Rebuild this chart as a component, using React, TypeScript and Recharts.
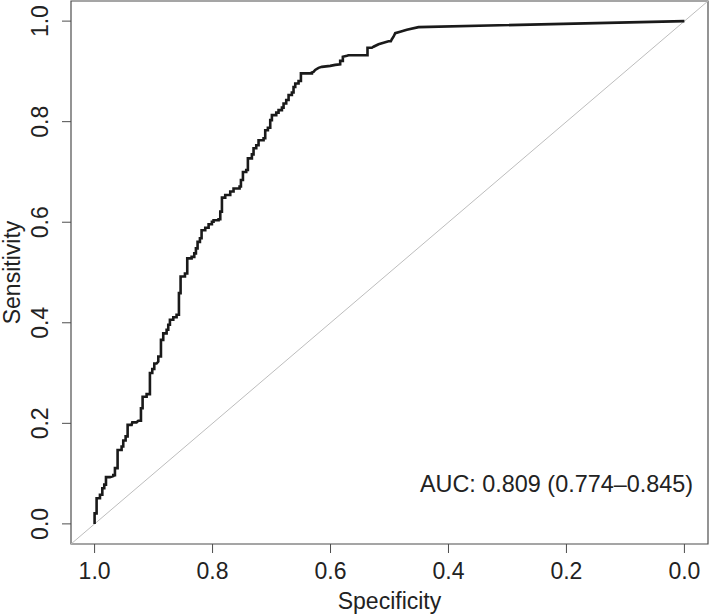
import React from "react";
import { LineChart, Line, XAxis, YAxis, ReferenceLine, ReferenceArea } from "recharts";

const specificity = [
  1.0, 1.0, 0.9966, 0.9966, 0.9909, 0.9909, 0.9869, 0.9869, 0.9836, 0.9836,
  0.9807, 0.9807, 0.9739, 0.9683, 0.9683, 0.9655, 0.9655, 0.961, 0.961, 0.9542,
  0.9542, 0.9514, 0.9514, 0.9474, 0.9474, 0.944, 0.944, 0.9372, 0.9361, 0.9288,
  0.9259, 0.9214, 0.9214, 0.9186, 0.9186, 0.9118, 0.9118, 0.9062, 0.9062, 0.9022,
  0.9022, 0.8988, 0.8988, 0.8949, 0.892, 0.892, 0.8875, 0.8875, 0.8836, 0.8836,
  0.8779, 0.8779, 0.8751, 0.8751, 0.8723, 0.8723, 0.8666, 0.8666, 0.861, 0.861,
  0.857, 0.857, 0.8542, 0.8542, 0.8468, 0.8468, 0.8429, 0.8429, 0.8355, 0.8355,
  0.831, 0.831, 0.8282, 0.8282, 0.8254, 0.8254, 0.8214, 0.8214, 0.8186, 0.8186,
  0.8124, 0.8124, 0.8067, 0.8067, 0.8011, 0.8011, 0.7983, 0.7983, 0.7898, 0.7898,
  0.7869, 0.7869, 0.7841, 0.7841, 0.7785, 0.7785, 0.77, 0.77, 0.7644, 0.7644,
  0.7542, 0.7542, 0.7519, 0.7519, 0.7485, 0.7485, 0.7429, 0.7429, 0.7401, 0.7401,
  0.7333, 0.7333, 0.7305, 0.7305, 0.7259, 0.7259, 0.722, 0.722, 0.7135, 0.7135,
  0.7107, 0.7107, 0.7062, 0.7062, 0.7022, 0.7022, 0.6994, 0.6994, 0.692, 0.692,
  0.6881, 0.6881, 0.6824, 0.6824, 0.6796, 0.6796, 0.6751, 0.6751, 0.6711, 0.6711,
  0.6655, 0.6655, 0.6627, 0.6627, 0.6598, 0.6598, 0.6542, 0.6542, 0.6502, 0.6502,
  0.6401, 0.6316, 0.6316, 0.6288, 0.626, 0.6203, 0.6147, 0.6005, 0.592, 0.5836,
  0.5836, 0.5791, 0.5791, 0.5723, 0.5695, 0.5373, 0.5373, 0.5299, 0.5271, 0.5186,
  0.5101, 0.5017, 0.4977, 0.496, 0.4932, 0.4903, 0.4819, 0.4706, 0.4508, 0.0,
];

const sensitivity = [
  0.0, 0.021, 0.021, 0.051, 0.051, 0.058, 0.058, 0.071, 0.071, 0.078,
  0.078, 0.093, 0.093, 0.095, 0.097, 0.097, 0.111, 0.111, 0.147, 0.147,
  0.154, 0.154, 0.166, 0.166, 0.174, 0.174, 0.197, 0.197, 0.202, 0.202,
  0.205, 0.205, 0.23, 0.23, 0.253, 0.253, 0.258, 0.258, 0.3, 0.3,
  0.308, 0.308, 0.319, 0.319, 0.323, 0.333, 0.333, 0.366, 0.366, 0.379,
  0.379, 0.386, 0.386, 0.396, 0.396, 0.406, 0.406, 0.411, 0.411, 0.416,
  0.416, 0.459, 0.459, 0.492, 0.492, 0.498, 0.498, 0.528, 0.528, 0.531,
  0.531, 0.538, 0.538, 0.548, 0.548, 0.561, 0.561, 0.568, 0.568, 0.584,
  0.584, 0.589, 0.589, 0.596, 0.596, 0.601, 0.601, 0.604, 0.604, 0.606,
  0.606, 0.621, 0.621, 0.649, 0.649, 0.654, 0.654, 0.661, 0.661, 0.667,
  0.667, 0.671, 0.671, 0.684, 0.684, 0.7, 0.7, 0.704, 0.704, 0.727,
  0.727, 0.735, 0.735, 0.747, 0.747, 0.753, 0.753, 0.763, 0.763, 0.767,
  0.767, 0.783, 0.783, 0.788, 0.788, 0.803, 0.803, 0.813, 0.813, 0.818,
  0.818, 0.823, 0.823, 0.828, 0.828, 0.836, 0.836, 0.843, 0.843, 0.853,
  0.853, 0.858, 0.858, 0.869, 0.869, 0.876, 0.876, 0.881, 0.881, 0.896,
  0.896, 0.896, 0.898, 0.899, 0.903, 0.907, 0.909, 0.911, 0.913, 0.914,
  0.921, 0.921, 0.929, 0.931, 0.932, 0.932, 0.947, 0.947, 0.949, 0.954,
  0.957, 0.96, 0.96, 0.964, 0.969, 0.976, 0.979, 0.983, 0.988, 1.0,
];

const xTicks = [1.0, 0.8, 0.6, 0.4, 0.2, 0.0];
const yTicks = [0.0, 0.2, 0.4, 0.6, 0.8, 1.0];
const aucText = "AUC: 0.809 (0.774\u20130.845)";
const xTitle = "Specificity";
const yTitle = "Sensitivity";

const data = specificity.map((s, i) => ({ spec: s, sens: sensitivity[i] }));

const FONT = "'Liberation Sans', Arial, Helvetica, sans-serif";
const TEXT = "#222222";
const FRAME = "#4d4d4d";

const YTick = (props: any) => {
  const { x, y, payload } = props;
  return (
    <text
      x={x}
      y={y}
      transform={`rotate(-90 ${x} ${y})`}
      textAnchor="middle"
      fontSize={23}
      fill={TEXT}
      fontFamily={FONT}
    >
      {Number(payload.value).toFixed(1)}
    </text>
  );
};

export default function App() {
  return (
    <div style={{ position: "absolute", left: 0, top: 0, background: "#fff" }}>
      <LineChart
        width={709}
        height={614}
        data={data}
        margin={{ top: 1, right: 1, bottom: 0, left: 0 }}
      >
        <XAxis
          type="number"
          dataKey="spec"
          domain={[-0.04, 1.04]}
          reversed
          ticks={xTicks}
          interval={0}
          allowDataOverflow
          tickFormatter={(v: number) => v.toFixed(1)}
          tickSize={9}
          tickMargin={10}
          axisLine={false}
          tickLine={{ stroke: FRAME, strokeWidth: 1 }}
          tick={{ fontSize: 23, fill: TEXT, fontFamily: FONT }}
          height={70}
        />
        <YAxis
          type="number"
          domain={[-0.04, 1.04]}
          ticks={yTicks}
          interval={0}
          allowDataOverflow
          tickSize={9}
          tickMargin={14}
          axisLine={false}
          tickLine={{ stroke: FRAME, strokeWidth: 1 }}
          tick={<YTick />}
          width={71}
        />
        <ReferenceLine
          segment={[
            { x: 1.04, y: -0.04 },
            { x: -0.04, y: 1.04 },
          ]}
          stroke="#bdbdbd"
          strokeWidth={1}
        />
        <Line
          type="linear"
          dataKey="sens"
          stroke="#1a1a1a"
          strokeWidth={2.6}
          dot={false}
          activeDot={false}
          isAnimationActive={false}
          strokeLinejoin="miter"
        />
        <ReferenceArea
          x1={-0.04}
          x2={1.04}
          y1={-0.04}
          y2={1.04}
          fill="none"
          fillOpacity={0}
          stroke={FRAME}
          strokeWidth={1.2}
          ifOverflow="visible"
        />
        <text
          x={693}
          y={492}
          textAnchor="end"
          fontSize={23.4}
          fill={TEXT}
          fontFamily={FONT}
        >
          {aucText}
        </text>
        <text
          x={389.5}
          y={608.5}
          textAnchor="middle"
          fontSize={23}
          fill={TEXT}
          fontFamily={FONT}
        >
          {xTitle}
        </text>
        <text
          x={19.5}
          y={272.5}
          transform="rotate(-90 19.5 272.5)"
          textAnchor="middle"
          fontSize={23}
          fill={TEXT}
          fontFamily={FONT}
        >
          {yTitle}
        </text>
      </LineChart>
    </div>
  );
}
